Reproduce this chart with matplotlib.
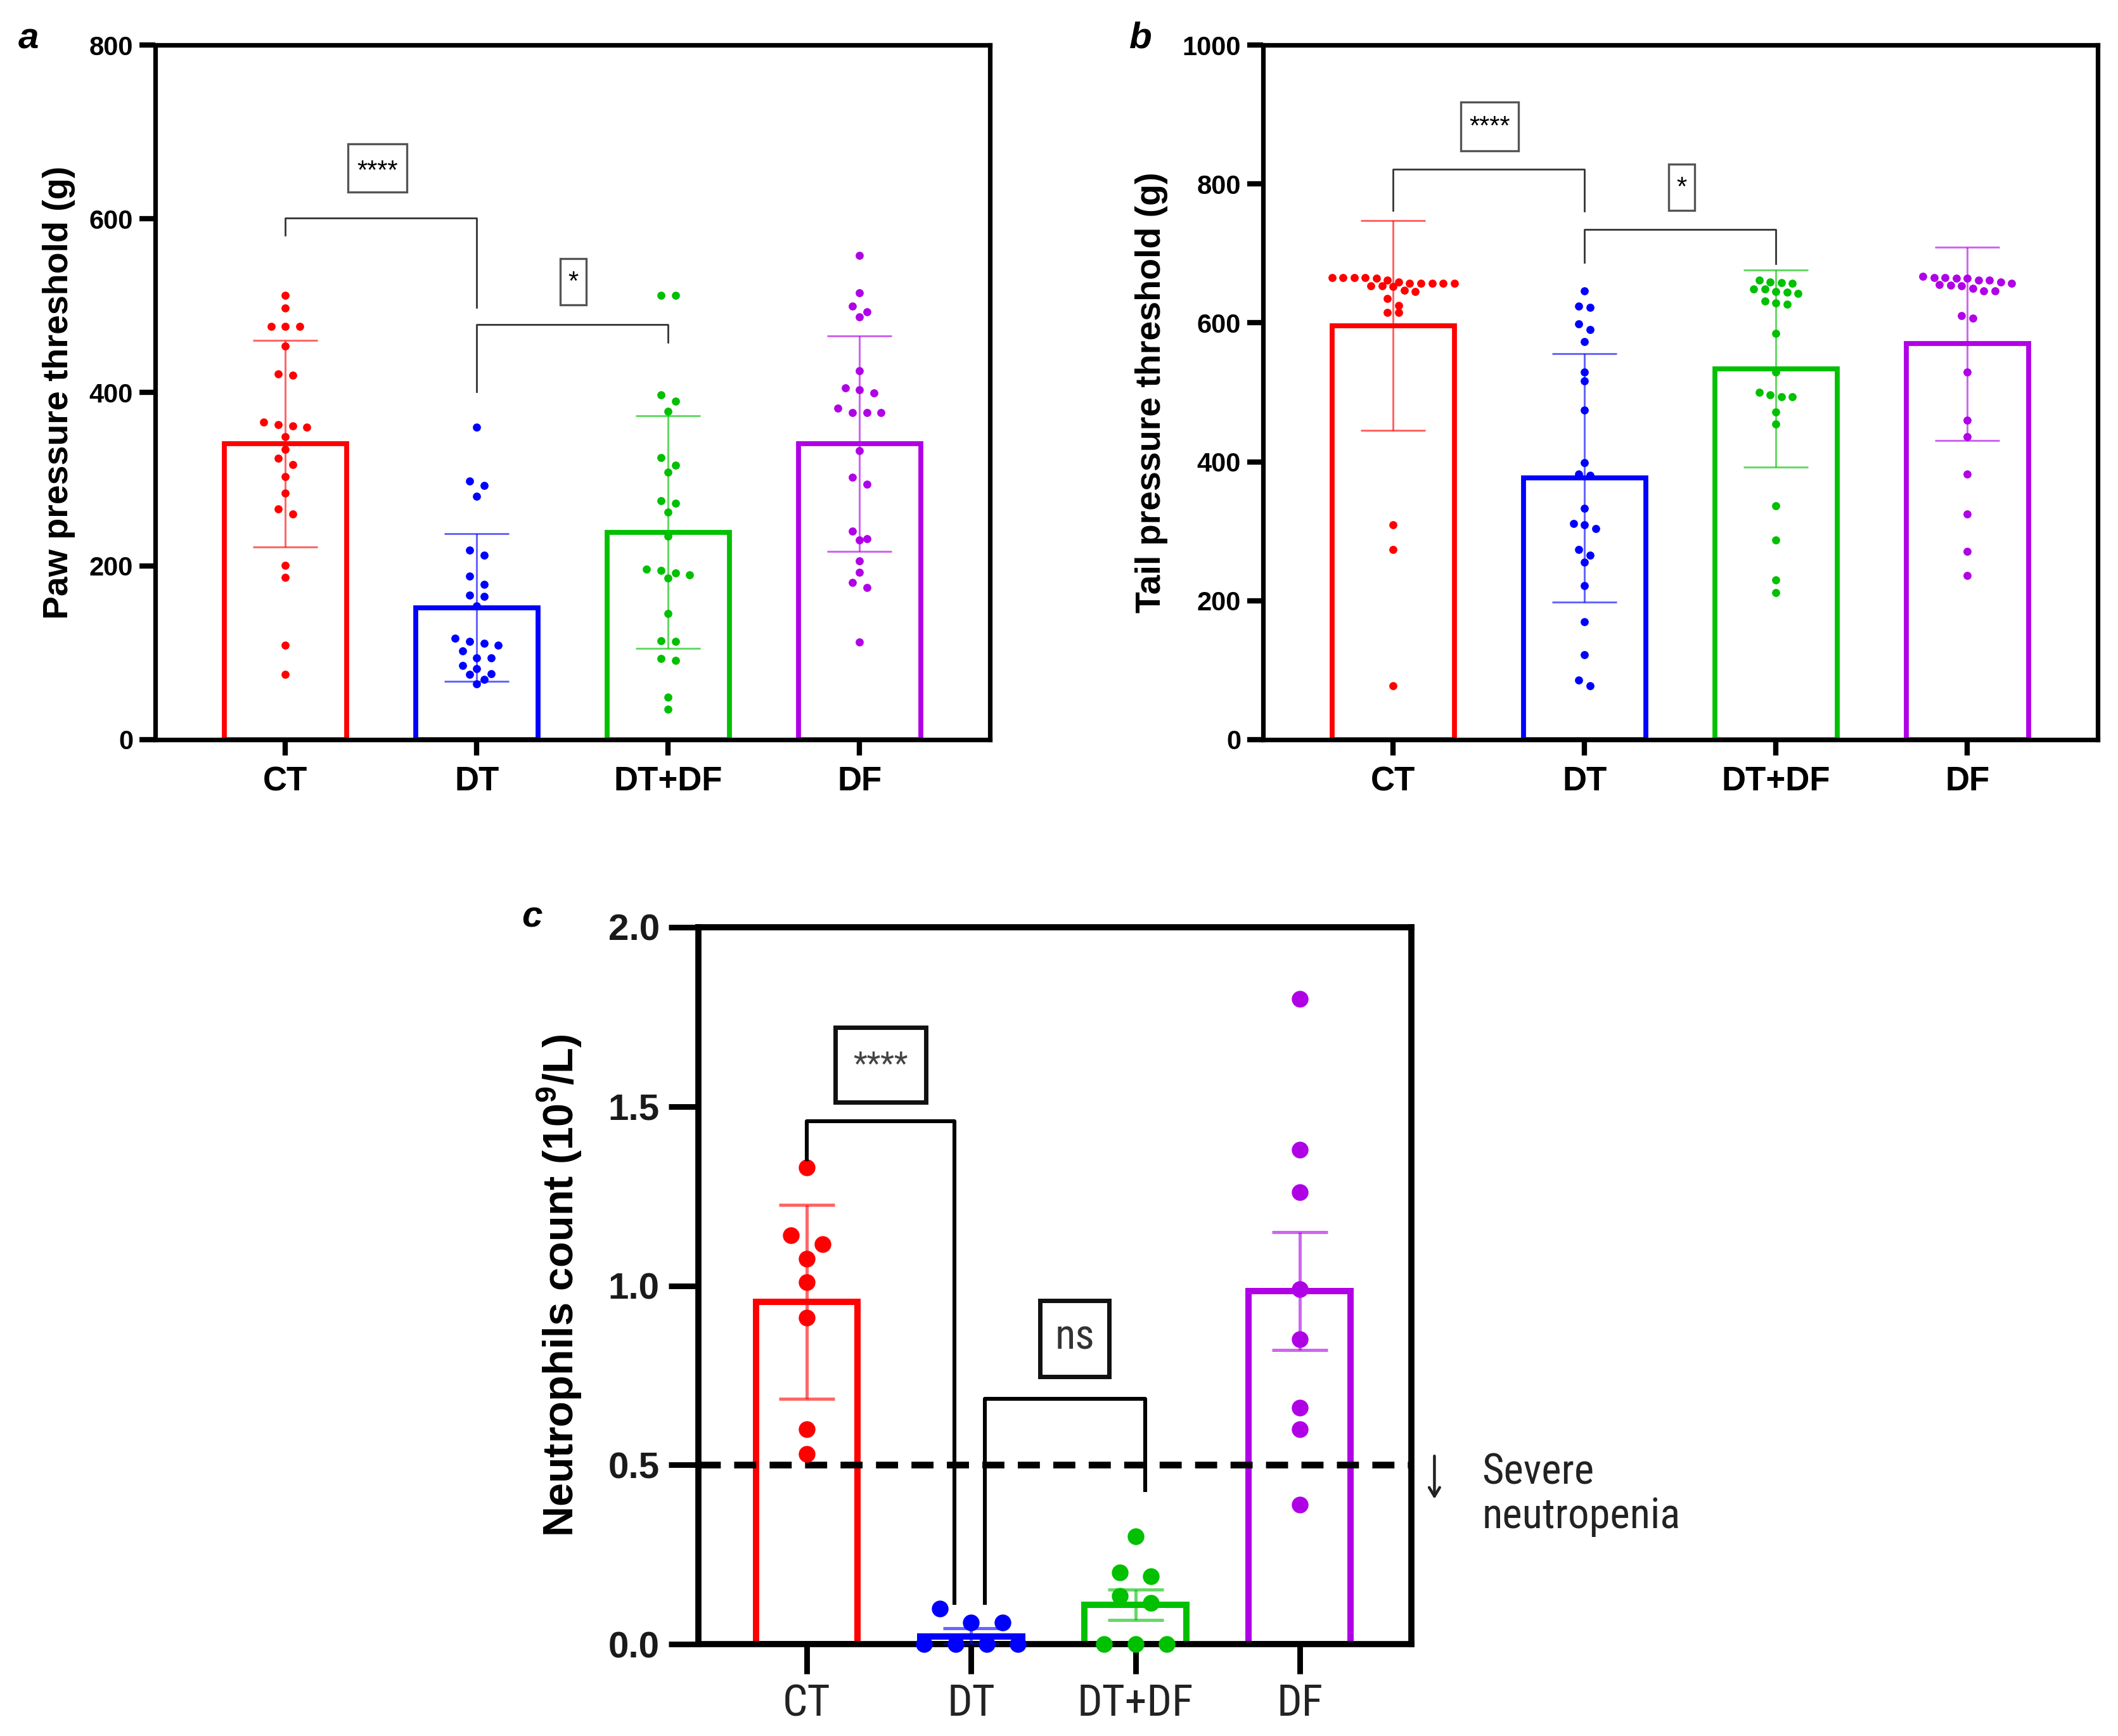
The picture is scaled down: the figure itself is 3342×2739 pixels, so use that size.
import numpy as np
import matplotlib
matplotlib.use('Agg')
import matplotlib.pyplot as plt
from matplotlib.patches import Rectangle

plt.rcParams['font.family'] = ['Liberation Sans', 'DejaVu Sans']
plt.rcParams['mathtext.fontset'] = 'custom'
plt.rcParams['mathtext.rm'] = 'Liberation Sans'
plt.rcParams['mathtext.bf'] = 'Liberation Sans:bold'

NARROW = ['Roboto Condensed', 'DejaVu Sans']

GROUPS = ['CT', 'DT', 'DT+DF', 'DF']
COLORS = ['#FF0000', '#0000FF', '#00C000', '#B000E6']

# panel a: paw pressure threshold (g), 24 animals per group
PAW_CT = [512, 497, 476, 476, 476, 453, 421, 420, 366, 363, 361, 360, 349, 334,
          324, 317, 303, 284, 266, 260, 201, 187, 109, 75]
PAW_DT = [360, 298, 293, 280, 218, 212, 188, 179, 166, 165, 154, 117, 113, 111,
          109, 102, 94, 94, 85, 82, 76, 75, 69, 64]
PAW_DTDF = [512, 512, 397, 390, 378, 325, 316, 308, 275, 272, 262, 234, 196, 195,
            192, 190, 186, 145, 114, 113, 93, 91, 49, 35]
PAW_DF = [558, 515, 499, 493, 487, 425, 405, 403, 399, 382, 377, 377, 377, 333,
          302, 294, 240, 231, 230, 206, 193, 181, 175, 112]
PAW_MEAN = [341, 152, 239, 341]
PAW_SD = [119, 85, 134, 124]

# panel b: tail pressure threshold (g)
TAIL_CT = [665, 665, 665, 665, 664, 662, 659, 657, 657, 657, 657, 657, 653, 653,
           652, 647, 645, 635, 625, 615, 615, 309, 274, 77]
TAIL_DT = [646, 624, 622, 599, 590, 573, 529, 516, 474, 399, 382, 380, 333, 311,
           309, 304, 274, 265, 255, 222, 170, 122, 86, 77]
TAIL_DTDF = [662, 659, 658, 657, 649, 649, 645, 644, 642, 631, 629, 627, 585, 529,
             500, 496, 494, 494, 472, 454, 337, 287, 230, 212]
TAIL_DF = [667, 665, 665, 664, 664, 662, 662, 659, 657, 655, 654, 653, 650, 646,
           646, 610, 607, 529, 460, 436, 382, 325, 271, 236]
TAIL_MEAN = [596, 377, 534, 570]
TAIL_SD = [151, 179, 142, 139]

# panel c: neutrophils count (10^9/L)
NEU_CT = [1.33, 1.14, 1.115, 1.075, 1.01, 0.91, 0.60, 0.53]
NEU_DT = [0.10, 0.06, 0.06, 0.0, 0.0, 0.0, 0.0]
NEU_DTDF = [0.30, 0.20, 0.19, 0.135, 0.115, 0.0, 0.0, 0.0]
NEU_DF = [1.80, 1.38, 1.26, 0.99, 0.85, 0.66, 0.60, 0.39]
NEU_MEAN = [0.955, 0.022, 0.11, 0.985]
NEU_ERR = [0.27, 0.022, 0.042, 0.165]
NEUTROPENIA = 0.5


def swarm(vals, thr, step):
    """Spread overlapping points sideways in centred rows (GraphPad-like)."""
    vals = np.asarray(vals, float)
    order = np.argsort(-vals, kind='stable')
    off = np.zeros(len(vals))
    rows, cur = [], []
    for i in order:
        if cur and vals[cur[0]] - vals[i] > thr:
            rows.append(cur)
            cur = []
        cur.append(i)
    rows.append(cur)
    for row in rows:
        n = len(row)
        for k, i in enumerate(row):
            off[i] = (k - (n - 1) / 2) * step
    return off


def style_axes(ax, spine_lw, tick_len, tick_w, pad, ypad=3.5):
    for s in ax.spines.values():
        s.set_linewidth(spine_lw)
    ax.tick_params(direction='out', length=tick_len, width=tick_w, top=False, right=False)
    ax.tick_params(axis='x', pad=pad)
    ax.tick_params(axis='y', pad=ypad)


def draw_bars(ax, series, means, errs, thr, step, width, bar_lw, err_lw, capsize, ms):
    x = np.arange(len(GROUPS))
    ax.bar(x, means, width=width, facecolor='none', edgecolor=COLORS,
           linewidth=bar_lw, zorder=2)
    for i, vals in enumerate(series):
        ax.errorbar(x[i], means[i], yerr=errs[i], color=COLORS[i], alpha=0.6,
                    lw=err_lw, capsize=capsize, capthick=err_lw, zorder=3)
        vals = np.asarray(vals, float)
        ax.plot(x[i] + swarm(vals, thr, step), vals, 'o', ms=ms, color=COLORS[i],
                mec='none', zorder=5, clip_on=False)
    ax.set_xticks(x)


def bracket(ax, x0, x1, ytop, y0, y1, **kw):
    ax.plot([x0, x0, x1, x1], [y0, ytop, ytop, y1], **kw)


def sig_box(ax, x0, x1, y0, y1, label, ty, fs, ec, lw, color='black', **font):
    ax.add_patch(Rectangle((x0, y0), x1 - x0, y1 - y0, fill=False, ec=ec, lw=lw,
                           zorder=6, clip_on=False))
    ax.text((x0 + x1) / 2, ty, label, ha='center', va='center', fontsize=fs,
            color=color, zorder=7, **font)


fig = plt.figure(figsize=(16.71, 13.695), dpi=200)

# ---------------- panel a ----------------
ax_a = fig.add_axes([0.0733, 0.574, 0.394, 0.400])
draw_bars(ax_a, [PAW_CT, PAW_DT, PAW_DTDF, PAW_DF], PAW_MEAN, PAW_SD,
          thr=9, step=0.075, width=0.64, bar_lw=2.8, err_lw=1.1, capsize=18.5, ms=4.6)
ax_a.set_xlim(-0.68, 3.68)
ax_a.set_ylim(0, 800)
ax_a.set_yticks([0, 200, 400, 600, 800])
ax_a.set_xticklabels(GROUPS, fontsize=19, fontweight='bold')
ax_a.set_ylabel('Paw pressure threshold (g)', fontsize=20, fontweight='bold', labelpad=8)
for t in ax_a.get_yticklabels():
    t.set_fontsize(15)
    t.set_fontweight('bold')
style_axes(ax_a, 2.6, 9, 3, pad=6)
bracket(ax_a, 0, 1, 601, 581, 498, color='#333333', lw=1.0, zorder=6)
bracket(ax_a, 1, 2, 478, 401, 458, color='#333333', lw=1.0, zorder=6)
sig_box(ax_a, 0.327, 0.635, 631, 686, '****', 654, 15, '#555555', 1.2)
sig_box(ax_a, 1.436, 1.572, 501, 554, '*', 526, 15, '#555555', 1.2)

# ---------------- panel b ----------------
ax_b = fig.add_axes([0.5963, 0.574, 0.394, 0.400])
draw_bars(ax_b, [TAIL_CT, TAIL_DT, TAIL_DTDF, TAIL_DF], TAIL_MEAN, TAIL_SD,
          thr=10, step=0.058, width=0.64, bar_lw=2.8, err_lw=1.1, capsize=18.5, ms=4.6)
ax_b.set_xlim(-0.68, 3.68)
ax_b.set_ylim(0, 1000)
ax_b.set_yticks([0, 200, 400, 600, 800, 1000])
ax_b.set_xticklabels(GROUPS, fontsize=19, fontweight='bold')
ax_b.set_ylabel('Tail pressure threshold (g)', fontsize=20, fontweight='bold', labelpad=8)
for t in ax_b.get_yticklabels():
    t.set_fontsize(15)
    t.set_fontweight('bold')
style_axes(ax_b, 2.6, 9, 3, pad=6)
bracket(ax_b, 0, 1, 821, 762, 761, color='#333333', lw=1.0, zorder=6)
bracket(ax_b, 1, 2, 735, 687, 685, color='#333333', lw=1.0, zorder=6)
sig_box(ax_b, 0.353, 0.654, 848, 918, '****', 882, 15, '#555555', 1.2)
sig_box(ax_b, 1.44, 1.575, 762, 829, '*', 794, 15, '#555555', 1.2)

# ---------------- panel c ----------------
narrow = dict(family=NARROW, fontstretch='condensed')
ax_c = fig.add_axes([0.3297, 0.0529, 0.3367, 0.413])
draw_bars(ax_c, [NEU_CT, NEU_DT, NEU_DTDF, NEU_DF], NEU_MEAN, NEU_ERR,
          thr=0.05, step=0.19, width=0.62, bar_lw=3.6, err_lw=1.8, capsize=16, ms=9.5)
ax_c.set_xlim(-0.66, 3.68)
ax_c.set_ylim(0, 2.0)
ax_c.set_yticks([0.0, 0.5, 1.0, 1.5, 2.0])
ax_c.set_yticklabels([f'{v:.1f}' for v in ax_c.get_yticks()], fontsize=21,
                     fontweight='bold', color='#1a1a1a')
ax_c.set_xticklabels(GROUPS, fontsize=25, color='#222222', **narrow)
ax_c.set_ylabel('Neutrophils count (10$^{\\mathbf{9}}$/L)', fontsize=24,
                fontweight='bold', labelpad=14)
style_axes(ax_c, 3.5, 17, 3.2, pad=5, ypad=5)
ax_c.axhline(NEUTROPENIA, color='black', lw=3.8, ls=(0, (3.3, 2.0)), zorder=4,
             clip_on=False)
bracket(ax_c, 0, 0.9, 1.459, 1.3525, 0.115, color='black', lw=2.2, zorder=6)
bracket(ax_c, 1.084, 2.06, 0.684, 0.115, 0.43, color='black', lw=2.2, zorder=6)
sig_box(ax_c, 0.174, 0.727, 1.5125, 1.72, '****', 1.615, 18, '#111111', 2.5,
        color='#444444', **narrow)
sig_box(ax_c, 1.42, 1.84, 0.746, 0.959, 'ns', 0.855, 24, '#111111', 2.5,
        color='#333333', **narrow)
ax_c.annotate('', xy=(3.82, 0.405), xytext=(3.82, 0.525), annotation_clip=False,
              arrowprops=dict(arrowstyle='->,head_length=0.5,head_width=0.3',
                              color='#222222', lw=1.6, shrinkA=0, shrinkB=0))
ax_c.text(4.11, 0.417, 'Severe\nneutropenia', ha='left', va='center', fontsize=24,
          color='#222222', linespacing=1.1, clip_on=False, **narrow)

# panel letters
for x, y, s in [(0.0135, 0.9774, 'a'), (0.5386, 0.978, 'b'), (0.2513, 0.4717, 'c')]:
    fig.text(x, y, s, fontsize=21, fontweight='bold', fontstyle='italic',
             ha='center', va='center')

fig.savefig('out.png', dpi=200)
